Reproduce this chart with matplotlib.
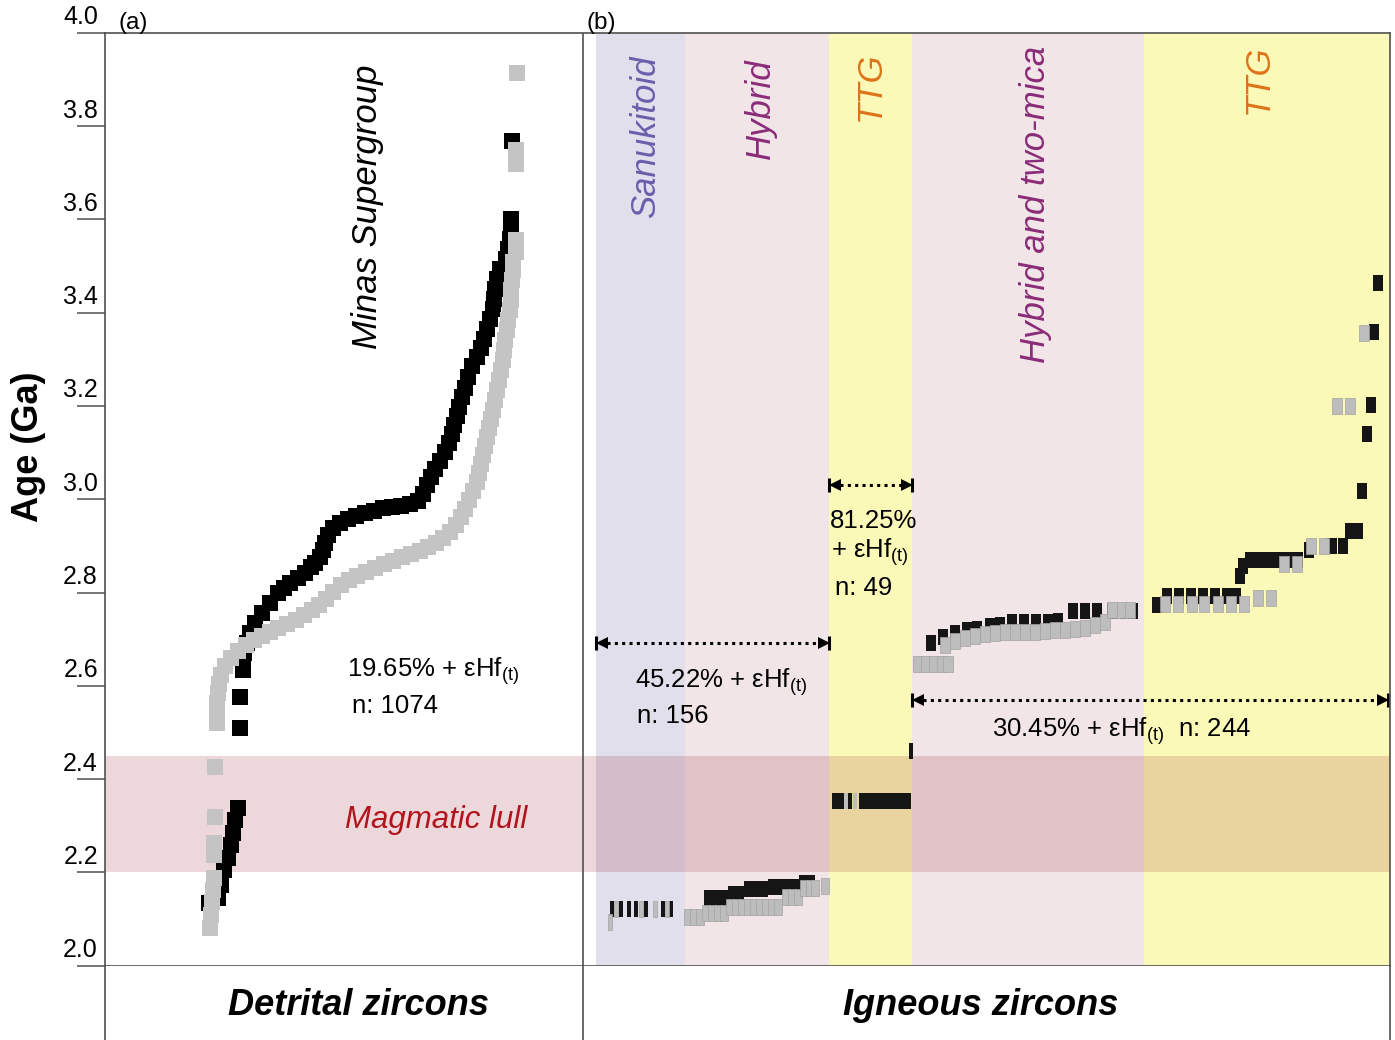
import matplotlib
matplotlib.use('Agg')
import matplotlib.pyplot as plt
import matplotlib.transforms as mtransforms

plt.rcParams['font.family'] = ['Liberation Sans', 'DejaVu Sans']
plt.rcParams['mathtext.fontset'] = 'custom'
plt.rcParams['mathtext.rm'] = 'Liberation Sans'

# ---- detrital zircons, Minas Supergroup (ranked position, age in Ga)
det_black_pos = [104, 113, 116, 119, 123, 126, 128, 130, 133, 135, 135,
                 138, 138, 139, 142, 145, 150, 157, 165, 173, 179,
                 185, 193, 200, 206, 210, 215, 218, 220, 223, 228,
                 235, 243, 251, 260, 269, 278, 287, 296, 305, 313,
                 318, 322, 326, 330, 335, 340, 344, 347, 349, 352,
                 354, 357, 360, 363, 367, 372, 376, 379, 382, 385,
                 388, 389, 390, 392, 395, 401, 403, 405, 406, 406, 407]
det_black_age = [2.134, 2.145, 2.173, 2.205, 2.231, 2.259, 2.284, 2.312, 2.338, 2.510, 2.576,
                 2.634, 2.651, 2.670, 2.692, 2.713, 2.735, 2.756, 2.777, 2.799, 2.810,
                 2.820, 2.831, 2.842, 2.855, 2.863, 2.876, 2.891, 2.906, 2.923, 2.938,
                 2.949, 2.958, 2.964, 2.970, 2.975, 2.981, 2.983, 2.985, 2.990, 2.996,
                 3.011, 3.030, 3.048, 3.065, 3.082, 3.101, 3.120, 3.140, 3.159, 3.178,
                 3.198, 3.219, 3.238, 3.262, 3.286, 3.305, 3.324, 3.343, 3.365, 3.386,
                 3.408, 3.429, 3.451, 3.472, 3.493, 3.515, 3.536, 3.558, 3.579, 3.601, 3.768]

det_grey_pos = [105, 106, 107, 108, 109, 109, 109, 110, 110,
                112, 112, 112, 113, 114, 116, 120, 126, 133, 141,
                149, 157, 165, 173, 182, 191, 199, 207, 214, 221,
                228, 236, 244, 252, 261, 270, 279, 288, 297, 306,
                315, 323, 331, 338, 345, 351, 356, 360, 364, 368,
                372, 374, 376, 378, 380, 382, 384, 386, 388, 390,
                392, 394, 396, 398, 399, 400, 402, 403, 405, 406,
                406, 407, 408, 408, 411, 411, 411, 411, 412]
det_grey_age = [2.081, 2.109, 2.137, 2.162, 2.188, 2.237, 2.263, 2.319, 2.426,
                2.520, 2.542, 2.563, 2.585, 2.604, 2.623, 2.642, 2.660, 2.675, 2.687,
                2.698, 2.707, 2.715, 2.724, 2.732, 2.741, 2.752, 2.762, 2.773, 2.786,
                2.801, 2.816, 2.827, 2.835, 2.844, 2.853, 2.861, 2.868, 2.876, 2.883,
                2.889, 2.898, 2.906, 2.917, 2.930, 2.945, 2.962, 2.979, 2.998, 3.018,
                3.037, 3.056, 3.075, 3.095, 3.114, 3.133, 3.153, 3.172, 3.191, 3.213,
                3.234, 3.256, 3.277, 3.298, 3.320, 3.341, 3.363, 3.384, 3.406, 3.427,
                3.448, 3.470, 3.491, 3.508, 3.530, 3.556, 3.719, 3.749, 3.914]

# ---- igneous zircons, by suite
san_black_pos = [507, 516, 524, 531, 541, 558, 566]
san_black_age = [2.122] * 7
san_grey_pos = [505, 511, 536, 550, 562]
san_grey_age = [2.094, 2.122, 2.122, 2.122, 2.122]

hyb_black_pos = [603, 611, 619, 627, 635, 643, 651, 659, 667, 675, 683, 690, 698, 706]
hyb_black_age = [2.145, 2.145, 2.145, 2.154, 2.154, 2.164, 2.164, 2.164,
                 2.168, 2.168, 2.168, 2.168, 2.178, 2.178]
hyb_grey_pos = [583, 589, 595, 601, 607, 613, 619, 625, 631, 637, 643, 649,
                655, 661, 667, 673, 681, 687, 693, 699, 705, 710, 720]
hyb_grey_age = [2.104, 2.104, 2.104, 2.113, 2.113, 2.113, 2.113, 2.126, 2.126, 2.126, 2.126, 2.126,
                2.126, 2.126, 2.126, 2.126, 2.147, 2.147, 2.147, 2.167, 2.167, 2.167, 2.171]

ttg1_black_pos = [729, 733, 737, 745, 756, 760, 764, 768, 772, 776, 780, 784, 788, 792, 796, 800, 804, 806]
ttg1_black_age = [2.353] * 17 + [2.460]
ttg1_grey_pos = [741, 750]
ttg1_grey_age = [2.353, 2.353]

htm_black_pos = [826, 838, 850, 862, 872, 885, 895, 907, 919, 931, 943, 953, 968, 980, 992, 1007, 1020, 1028]
htm_black_age = [2.692, 2.705, 2.713, 2.720, 2.722, 2.728, 2.730, 2.737, 2.737,
                 2.737, 2.737, 2.739, 2.760, 2.760, 2.760, 2.760, 2.760, 2.760]
htm_grey_pos = [813, 821, 829, 837, 843, 840, 850, 860, 870, 880, 890, 900, 910,
                920, 930, 940, 950, 960, 970, 980, 990, 1000, 1007, 1017, 1025]
htm_grey_age = [2.647, 2.647, 2.647, 2.647, 2.647, 2.687, 2.696, 2.702, 2.707, 2.711, 2.713, 2.715, 2.715,
                2.715, 2.715, 2.717, 2.720, 2.720, 2.722, 2.724, 2.730, 2.737, 2.762, 2.762, 2.762]

ttg2_black_pos = [1052, 1062, 1074, 1086, 1098, 1110, 1122, 1131, 1135, 1138, 1145, 1155, 1165,
                  1175, 1185, 1193, 1204, 1227, 1238, 1245, 1253, 1257, 1262, 1266, 1269, 1273]
ttg2_black_age = [2.773, 2.792, 2.792, 2.792, 2.792, 2.792, 2.792, 2.792, 2.835, 2.857, 2.870, 2.870, 2.870,
                  2.870, 2.870, 2.870, 2.891, 2.900, 2.900, 2.932, 2.932, 3.018, 3.140, 3.202, 3.358, 3.463]
ttg2_grey_pos = [1060, 1073, 1087, 1099, 1113, 1126, 1139, 1153, 1166, 1179, 1192, 1206, 1219, 1232, 1245, 1259]
ttg2_grey_age = [2.776, 2.776, 2.776, 2.776, 2.776, 2.776, 2.776, 2.788, 2.788, 2.861, 2.861,
                 2.899, 2.899, 3.200, 3.200, 3.356]

# suite background columns: (start, end, colour)
suite_spans = [(491, 580, '#e2dfec'), (580, 724, '#f2e5e8'), (724, 807, '#fbf9b8'),
               (807, 1039, '#f2e5e8'), (1039, 1285, '#fbf9b8')]
suite_names = ['Sanukitoid', 'Hybrid', 'TTG', 'Hybrid and two-mica', 'TTG']
suite_label_x = [541, 655, 765, 931, 1153]
suite_label_top = [3.952, 3.946, 3.959, 3.972, 3.974]
suite_colors = ['#6b5fad', '#8a2c78', '#dd7319', '#8a2c78', '#dd7319']

lull = (2.2, 2.45)
yticks = [2.0, 2.2, 2.4, 2.6, 2.8, 3.0, 3.2, 3.4, 3.6, 3.8, 4.0]
divider = 478
frame_col = '#505050'


def rect(w, h):
    return [(-w / 2, -h / 2), (w / 2, -h / 2), (w / 2, h / 2), (-w / 2, h / 2), (-w / 2, -h / 2)]


def dots(ax, pos, age, marker, ms, fc, ec=None, mew=0.0):
    ax.plot(pos, age, ls='none', marker=marker, ms=ms, mfc=fc,
            mec=ec if ec else fc, mew=mew, zorder=3)


def span_arrow(ax, x0, x1, y):
    ax.plot([x0 + 11, x1 - 11], [y, y], color='k', lw=2.2,
            linestyle=(0, (1, 1.4)), dash_capstyle='butt', zorder=4)
    ax.plot([x0 + 5.5], [y], marker='<', ms=8, color='k', mew=0, zorder=4)
    ax.plot([x1 - 5.5], [y], marker='>', ms=8, color='k', mew=0, zorder=4)
    ax.plot([x0, x1], [y, y], ls='none', marker='|', ms=10, mew=2.2, color='k', zorder=4)


fig = plt.figure(figsize=(13.95, 10.4), dpi=100)
left, width = 105 / 1395, 1285 / 1395
bottom = (1040 - 965.7) / 1040
top = (1040 - 32.7) / 1040
ax = fig.add_axes([left, bottom, width, top - bottom])
ax.set_xlim(0, 1285)
ax.set_ylim(2.0, 4.0)

for s in ax.spines.values():
    s.set_color(frame_col)
    s.set_linewidth(1.2)
    s.set_zorder(6)
ax.set_xticks([])
ax.set_yticks(yticks)
ax.tick_params(axis='y', length=20, width=1.1, color=frame_col, labelleft=False)

# tick labels sit just above their tick lines
lab_tr = mtransforms.offset_copy(ax.get_yaxis_transform(), fig=fig, x=-7, y=8.5, units='dots')
for v in yticks:
    ax.text(0, v, f'{v:.1f}', transform=lab_tr, ha='right', va='baseline', fontsize=18)

for (x0, x1, c) in suite_spans:
    ax.axvspan(x0, x1, color=c, lw=0, zorder=0)
ax.axvline(divider, color=frame_col, lw=1.2, zorder=6)
ax.axhspan(lull[0], lull[1], color=(0.55, 0.05, 0.1), alpha=0.16, lw=0, zorder=1)

# detrital
dots(ax, det_black_pos, det_black_age, 's', 12, 'black')
dots(ax, det_grey_pos, det_grey_age, 's', 12, '#c4c4c4')

# igneous
ig_black, ig_grey, ig_edge = '#151515', '#bdbdbd', '#a2a2a2'
dots(ax, san_black_pos, san_black_age, rect(4.5, 17), 12.2, ig_black)
dots(ax, san_grey_pos, san_grey_age, rect(4.5, 17), 12.2, ig_grey, ig_edge, 0.5)
dots(ax, hyb_black_pos, hyb_black_age, rect(9, 17), 12.2, ig_black)
dots(ax, hyb_grey_pos, hyb_grey_age, rect(9, 17), 12.2, ig_grey, ig_edge, 0.5)
dots(ax, ttg1_black_pos, ttg1_black_age, rect(3.2, 17), 12.2, ig_black)
dots(ax, ttg1_grey_pos, ttg1_grey_age, rect(3.2, 17), 12.2, ig_grey)
dots(ax, htm_black_pos, htm_black_age, rect(11, 17), 12.2, ig_black)
dots(ax, htm_grey_pos, htm_grey_age, rect(10, 17), 12.2, ig_grey, ig_edge, 0.5)
dots(ax, ttg2_black_pos, ttg2_black_age, rect(10, 17), 12.2, ig_black)
dots(ax, ttg2_grey_pos, ttg2_grey_age, rect(10, 17), 12.2, ig_grey, ig_edge, 0.5)

# vertical labels
ax.text(263, 3.931, 'Minas Supergroup', rotation=90, ha='center', va='top',
        fontsize=25, style='italic', zorder=5)
for name, x, yt, c in zip(suite_names, suite_label_x, suite_label_top, suite_colors):
    ax.text(x, yt, name, rotation=90, ha='center', va='top', fontsize=25,
            style='italic', color=c, zorder=5)

ax.text(240, 2.312, 'Magmatic lull', ha='left', va='center', fontsize=22.5,
        style='italic', color='#b3141c', zorder=5)

ehf = r'ε$\mathregular{Hf_{(t)}}$'
fs = 18.5
ax.text(242, 2.619, '19.65% + ' + ehf, fontsize=fs, va='baseline', zorder=5)
ax.text(247, 2.542, 'n: 1074', fontsize=fs, va='baseline', zorder=5)
ax.text(725, 2.938, '81.25%', fontsize=fs, va='baseline', zorder=5)
ax.text(726, 2.874, '+ ' + ehf, fontsize=fs, va='baseline', zorder=5)
ax.text(730, 2.795, 'n: 49', fontsize=fs, va='baseline', zorder=5)
ax.text(530, 2.595, '45.22% + ' + ehf, fontsize=fs, va='baseline', zorder=5)
ax.text(532, 2.520, 'n: 156', fontsize=fs, va='baseline', zorder=5)
ax.text(887, 2.490, '30.45% + ' + ehf + '  n: 244', fontsize=fs, va='baseline', zorder=5)

span_arrow(ax, 491, 724, 2.692)
span_arrow(ax, 724, 807, 3.030)
span_arrow(ax, 807, 1283, 2.570)

# panel letters
fig.text(118 / 1395, 1 - 29 / 1040, '(a)', fontsize=17.5, va='baseline')
fig.text(587 / 1395, 1 - 29 / 1040, '(b)', fontsize=17.5, va='baseline')

fig.text(28 / 1395, 1 - 447 / 1040, 'Age (Ga)', rotation=90, ha='center', va='center',
         fontsize=26, fontweight='bold')

# lower strip with the zircon group names
axb = fig.add_axes([left, 0, width, bottom])
axb.set_xlim(0, 1285)
axb.set_ylim(0, 1)
axb.set_xticks([])
axb.set_yticks([])
for k in ('top', 'bottom'):
    axb.spines[k].set_visible(False)
for k in ('left', 'right'):
    axb.spines[k].set_color(frame_col)
    axb.spines[k].set_linewidth(1.2)
axb.axvline(divider, color=frame_col, lw=1.2)
axb.text(254, 0.34, 'Detrital zircons', ha='center', va='baseline', fontsize=26,
         fontweight='bold', style='italic')
axb.text(876, 0.34, 'Igneous zircons', ha='center', va='baseline', fontsize=26,
         fontweight='bold', style='italic')

fig.savefig('out.png', dpi=100)
